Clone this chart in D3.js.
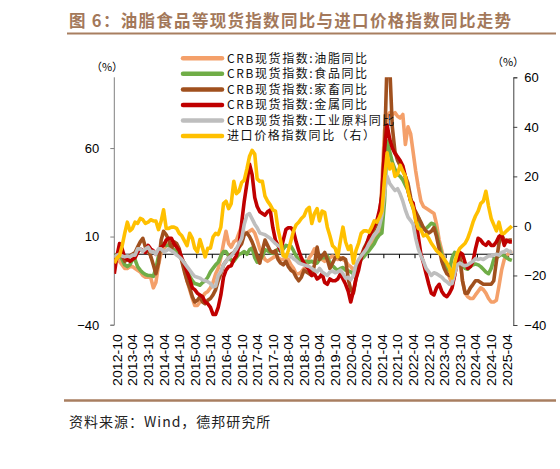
<!DOCTYPE html>
<html><head><meta charset="utf-8">
<script src="https://cdn.jsdelivr.net/npm/d3@7/dist/d3.min.js"></script>
<style>
html,body{margin:0;padding:0;background:#fff;}
svg text{font-family:"Liberation Sans",Arial,sans-serif;}
.cjk{font-family:"Noto Sans CJK SC","Liberation Sans",sans-serif;}
</style></head>
<body>
<svg id="chart" width="560" height="469"></svg>
<script>
// ---------- data ----------
const startMonth = "2012-08";
const tickLabels = ["2012-10","2013-04","2013-10","2014-04","2014-10","2015-04","2015-10","2016-04","2016-10","2017-04","2017-10","2018-04","2018-10","2019-04","2019-10","2020-04","2020-10","2021-04","2021-10","2022-04","2022-10","2023-04","2023-10","2024-04","2024-10","2025-04"];
const leftTicks = [-40, 10, 60];
const rightTicks = [-40, -20, 0, 20, 40, 60];
const seriesNames = ["CRB现货指数:油脂同比","CRB现货指数:食品同比","CRB现货指数:家畜同比","CRB现货指数:金属同比","CRB现货指数:工业原料同比","进口价格指数同比（右）"];

const oilsFats = [-4,-3,-4,-6,-8,-8,-7,-7,-8,-9,
-10,-12,-13,-13,-13,-19,-16,-6,1,3,
5,6,7,6,5,1,-3,-9,-15,-20,
-25,-29,-29,-27,-24,-22,-21,-19,-16,-11,
-8,-2,6,13,6,4,7,8,12,16,
12,12,13,14,12,8,3,0,-3,-4,
-3,-2,-1,-2,-3,-3,-2,-3,-6,-8,
-11,-11,-10,-8,-7,-2,0,3,1,-2,
-3,-4,-3,-2,-1,-2,-3,-2,-3,-4,
-6,-7,-9,-7,-5,-2,0,2,4,6,
8,10,12,40,70,78,80,79,80,78,
77,79,62,72,68,58,47,38,30,27,
26,25,24,23,17,8,2,-4,-8,-13,
-17,-12,-3,-2,-15,-22,-24,-25,-25,-23,
-21,-19,-20,-22,-25,-27,-27,-26,-18,-9,
-3,-1,1,2];

const foodstuffs = [-1,0,-1,-3,-6,-7,-6,-3,-3,-7,
-9,-10.5,-11.5,-12,-12,-12.5,-8,-1,4,6,
5,5,3.5,2.5,1.5,-1,-3,-5,-9,-12.5,
-15,-16.5,-17,-17.5,-16,-15,-13,-10,-8,-6,
-4.5,-1,1.5,1.5,-1,-3.5,-4,-2,0,0.5,
1.5,0,2.5,3.5,-2,-4.5,-3.5,-1,2.5,2,
1,0.5,1.5,3,1.5,3,5,4.5,4.5,2,
-1,-3,-4.5,-4,-4,-4.5,-4,-5,-5,-3,
-2,-2,-1,-5,-6.5,-8,-9,-8,-7.5,-9,
-9.5,-10,-11,-8,-6,-3,-1.5,0.5,2,4,
6,9,11,12,30,64,58,52,48,45,
44,42,39,36,30,26,23,21,16,14,
14.5,16,17.5,17,12,5,0,-5,-8,-9,
-2,1,-1,-3,-6,-8,-8.5,-7,-6,-5.5,
-6,-7,-8.5,-10,-11,-8,-3,-2,-1,0,
-1,-2,-3,-3.5];

const livestock = [-3,-1,0,-1,-4,-3,-1,0,1,4,
7,9,4,2,-1,-6,-11,-5,8,13,
11,8,3,7,6,3,-4,-10,-15,-19,
-24,-27,-26,-24,-27,-28,-26,-25,-23,-20,
-15,-11,-6,-4,-2,0,1,3,4,6,
11,12,10,7,3,-1,-5,2,8,5,
2,1,2,-3,-5,-6,-4,-7,-9,-10,
-13,-15,-13,-9,-10,-11,-12,-6,4,-3,
-1,1,-3,-8,-5,-2,-1,-3,-2,-3,
-14,-20,-22,-14,-5,-1,3,6,9,12,
14,17,22,35,60,110,106,72,58,53,
50,48,44,40,32,27,24,21,18,15,
13,12,13,15,10,3,-4,-8,-11,-12,
-11,-8,-3,-2,-15,-22,-22,-19,-17,-15,
-15,-16,-17,-17,-17,-17,-15,-4,6,11,
8,7,8,8];

const metals = [-11,-1,6,3,-2,-3,-4,-3,-2,1,
3,2,1,5,3,2,0,2,4,5,
8,9,9,6,4,2,-2,-6,-10,-14,
-19,-20,-22,-23,-24,-27,-28,-30,-34,-34,
-30,-23,-13,-9,-7,-6.5,-3,-1,5,18,
30,40,51,45,32,27,24,23,22,24,
25,15,8,5,2,8,14,15,15,13,
7,2,-2,-5,-7,-9,-12,-11,-14,-13,
-11,-16,-17,-14,-15,-15,-14,-11,-14,-17,
-21,-27,-21,-14,-9,-2,2,5,10,13,
16,19,25,33,60,73,65,60,57,55,
53,50,44,36,30,29,20,10,0,-5,
-11,-17,-22,-23,-19,-17,-21,-23,-24,-22,
-19,-12,-4,1,0,-5,-8,-7,-4,3,
9,8,6,5,7,5,5,7,10,11,
5,8,7,7];

const rawIndustrials = [-2,-0.5,0,-1,-1.5,-1,-1.5,-0.5,-0.5,3,
3,1.5,3,4,1.5,1.5,0,3,3,1.5,
2,3,2,1,-0.5,-1.5,-3,-5,-7,-9,
-11,-12.5,-13,-13.5,-14.5,-15,-15.5,-16.5,-18.5,-18,
-12,-10,-6,-4,-2,-1,1,3,6,9,
17,22,23,20,17,15,12,11.5,11,10,
9,7.5,6,5,4,-1,-1,-0.5,-1,-2.5,
-3.5,-5,-5.5,-6,-6.5,-7,-8,-9,-10,-8,
-10,-11,-12,-10,-9.5,-10.5,-10,-9,-11,-13.5,
-13,-14.5,-12,-6,-3,-1,1,3,6,8.5,
11,12.5,16,22,35,44,40,38,36,37,
34,30,25,21,19,17,9,3,-1,-4,
-8,-10,-12,-10.5,-11,-12,-13,-14.5,-15.5,-17,
-16.5,-11,-6,-5,-6,-6.5,-6,-5,-4,-2.5,
-3,-2.5,-3,-2,-1,-1,-0.5,0,-0.5,1,
1.5,2.5,1.5,1];

const importPrice = [-15,-13,-12,-8,-3,1.5,-2,-1,1.5,1,
3,2.5,1,1.5,2.5,2,2,-1.5,2,6.5,
-1,-1,-0.5,-0.5,-1,-3,-4,-6,-8,-3,
-5,-9,-10.5,-5.5,-9,-12.5,-9,-9,-4.5,-3,
-3.5,-0.5,9,10,7,9,18,13,14,17.5,
18.5,23,28,30.5,29,19,18,18,12,10,
8.5,6.5,6,-1.5,-6,-12,-12.5,-10,-6,-2,
0.5,1.5,3,4,6.5,7.5,1,5,7,2,
6,5.5,-0.5,-4,-8,-9,-12.5,-6,-0.5,-6.5,
-9.5,-8,-15,-10,-7,-3,-2,-2,-2.5,-0.5,
2,1.5,3.5,6,19,29.5,23,25,20,21,
24.5,22,20,14,10,7.5,2,-1,-1.5,-4,
-3.5,-5,-7,-8.5,-10,-11,-12,-13.5,-15,-17,
-21,-15,-11,-9,-8,-7,-5,-2,1.5,4,
6,9,10,14,8,3,0.5,-2,1.5,-3,
-3,-2,-1,0];

// ---------- layout ----------
const plot = {left: 114.3, right: 513.3, top: 77.3, bottom: 325};
const colors = ["#F4A06A","#70AD47","#A0501E","#C00000","#BEBEBE","#FFC000"];

const svg = d3.select("#chart");
const parseMonth = d3.timeParse("%Y-%m");
const start = parseMonth(startMonth);
const dateOf = i => d3.timeDay.offset(d3.timeMonth.offset(start, i), 14);

const x = d3.scaleTime()
  .domain([d3.timeDay.offset(start, 14), parseMonth("2025-06")])
  .range([plot.left, plot.right]);
const yL = d3.scaleLinear().domain([-40, 100]).range([plot.bottom, plot.top]);
const yR = d3.scaleLinear().domain([-40, 60]).range([plot.bottom, plot.top]);

// title
svg.append("text").attr("class","cjk")
  .attr("x", 69).attr("y", 27)
  .attr("font-size", 16.5).attr("font-weight", "bold")
  .attr("letter-spacing", 1.3)
  .attr("fill", "#A3785A")
  .text("图 6：油脂食品等现货指数同比与进口价格指数同比走势");
svg.append("line").attr("x1", 67).attr("x2", 556).attr("y1", 33.5).attr("y2", 33.5)
  .attr("stroke", "#A87E60").attr("stroke-width", 2);

// clip
svg.append("clipPath").attr("id","clip").append("rect")
  .attr("x", plot.left).attr("y", plot.top)
  .attr("width", plot.right - plot.left).attr("height", plot.bottom - plot.top);

// left axis
const gL = svg.append("g").attr("transform", `translate(${plot.left},0)`)
  .call(d3.axisLeft(yL).tickValues(leftTicks).tickSize(4).tickPadding(11).tickFormat(d3.format("d")));
gL.select(".domain").attr("stroke", "#808080").attr("d", `M-0,${plot.top}V${plot.bottom}H-4`);
gL.selectAll(".tick line").attr("stroke", "#808080");
gL.selectAll(".tick text").attr("font-size", 13).attr("fill", "#000")
  .attr("font-family", "Liberation Sans, Arial, sans-serif");

// right axis
const gR = svg.append("g").attr("transform", `translate(${plot.right},0)`)
  .call(d3.axisRight(yR).tickValues(rightTicks).tickSize(4).tickPadding(7).tickFormat(d3.format("d")));
gR.select(".domain").attr("stroke", "#404040");
gR.selectAll(".tick line").attr("stroke", "#404040");
gR.selectAll(".tick text").attr("font-size", 13).attr("fill", "#000")
  .attr("font-family", "Liberation Sans, Arial, sans-serif");

// (%) labels
svg.append("text").attr("class","cjk").attr("x", 107).attr("y", 70.5).attr("text-anchor","middle")
  .attr("font-size", 11).text("（%）");
svg.append("text").attr("class","cjk").attr("x", 508).attr("y", 66).attr("text-anchor","middle")
  .attr("font-size", 11).text("（%）");

// x axis at zero of left scale
const tickDates = tickLabels.map(parseMonth);
const gX = svg.append("g").attr("transform", `translate(0,${yL(0)})`)
  .call(d3.axisBottom(x).tickValues(tickDates).tickSize(4).tickFormat(() => ""));
gX.select(".domain").attr("stroke", "#000").attr("d", `M${plot.left},0H${plot.right}`);
gX.selectAll(".tick line").attr("stroke", "#000");

// x labels at bottom
svg.append("g").selectAll("text").data(tickLabels).join("text")
  .attr("transform", d => `translate(${x(parseMonth(d)) + 3.5},${plot.bottom + 9}) rotate(-90)`)
  .attr("text-anchor", "end")
  .attr("font-size", 13)
  .attr("fill", "#000")
  .attr("textLength", 52).attr("lengthAdjust", "spacingAndGlyphs")
  .text(d => d);

// lines
const leftSeries = [oilsFats, foodstuffs, livestock, metals, rawIndustrials];
const lineL = d3.line().x((d, i) => x(dateOf(i))).y(d => yL(d));
const lineR = d3.line().x((d, i) => x(dateOf(i))).y(d => yR(d));
const gLines = svg.append("g").attr("clip-path", "url(#clip)");
leftSeries.forEach((s, k) => {
  gLines.append("path").datum(s).attr("d", lineL)
    .attr("fill", "none").attr("stroke", colors[k]).attr("stroke-width", 3.6)
    .attr("stroke-linejoin", "round");
});
gLines.append("path").datum(importPrice).attr("d", lineR)
  .attr("fill", "none").attr("stroke", colors[5]).attr("stroke-width", 3.6)
  .attr("stroke-linejoin", "round");

// legend
const legend = svg.append("g");
const legY = d3.scalePoint().domain(seriesNames).range([58.3, 136]);
seriesNames.forEach((name, k) => {
  legend.append("line").attr("x1", 183).attr("x2", 222)
    .attr("y1", legY(name)).attr("y2", legY(name))
    .attr("stroke", colors[k]).attr("stroke-width", 4.5).attr("stroke-linecap", "round");
  legend.append("text").attr("class","cjk").attr("x", 227).attr("y", legY(name) + 4.3)
    .attr("font-size", 12).attr("letter-spacing", 1.6).attr("fill", "#111")
    .text(name);
});

// bottom separator and source
svg.append("line").attr("x1", 64).attr("x2", 556).attr("y1", 400.5).attr("y2", 400.5)
  .attr("stroke", "#A87E60").attr("stroke-width", 2.5);
svg.append("text").attr("class","cjk").attr("x", 69).attr("y", 426.5)
  .attr("font-size", 14).attr("letter-spacing", 1).attr("fill", "#222")
  .text("资料来源：Wind，德邦研究所");
</script>
</body></html>
